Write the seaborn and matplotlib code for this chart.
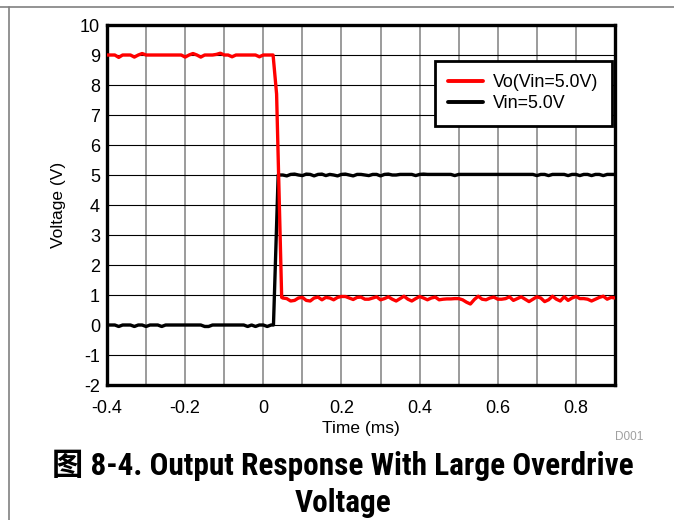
import numpy as np
import pandas as pd
import seaborn as sns
import matplotlib
matplotlib.use("Agg")
import matplotlib.pyplot as plt
from matplotlib.lines import Line2D

# ---------------- data ----------------
t_pre = [-0.40, -0.39, -0.38, -0.37, -0.36, -0.35, -0.34, -0.33, -0.32, -0.31,
         -0.30, -0.29, -0.28, -0.27, -0.26, -0.25, -0.24, -0.23, -0.22, -0.21,
         -0.20, -0.19, -0.18, -0.17, -0.16, -0.15, -0.14, -0.13, -0.12, -0.11,
         -0.10, -0.09, -0.08, -0.07, -0.06, -0.05, -0.04, -0.03, -0.02, -0.01,
         0.00, 0.01, 0.02]
vo_pre = [9.00, 9.00, 9.00, 8.92, 9.00, 9.00, 9.00, 8.93, 9.00, 9.05,
          9.00, 9.00, 9.00, 9.00, 9.00, 9.00, 9.00, 9.00, 9.00, 9.00,
          8.93, 9.00, 9.05, 9.00, 8.93, 9.00, 9.00, 9.00, 9.02, 9.06,
          9.00, 9.00, 8.94, 9.00, 9.00, 9.00, 9.00, 9.00, 9.00, 8.94,
          9.00, 9.00, 9.00]
vin_pre = [0.00, 0.00, 0.00, -0.05, 0.00, 0.00, 0.00, -0.05, 0.00, 0.00,
           -0.05, 0.00, 0.00, 0.00, -0.05, 0.00, 0.00, 0.00, 0.00, 0.00,
           0.00, 0.00, 0.00, 0.00, 0.00, -0.05, -0.05, 0.00, 0.00, 0.00,
           0.00, 0.00, 0.00, 0.00, 0.00, 0.00, -0.05, 0.00, -0.05, 0.00,
           0.00, -0.05, 0.00]

t_vo_edge = [0.025, 0.034, 0.047]
vo_edge = [9.00, 7.70, 0.92]
t_vin_edge = [0.026, 0.038, 0.044]
vin_edge = [0.00, 5.00, 5.00]

t_post = [0.05, 0.06, 0.07, 0.08, 0.09, 0.10, 0.11, 0.12, 0.13, 0.14,
          0.15, 0.16, 0.17, 0.18, 0.19, 0.20, 0.21, 0.22, 0.23, 0.24,
          0.25, 0.26, 0.27, 0.28, 0.29, 0.30, 0.31, 0.32, 0.33, 0.34,
          0.35, 0.36, 0.37, 0.38, 0.39, 0.40, 0.41, 0.42, 0.43, 0.44,
          0.45, 0.46, 0.47, 0.48, 0.49, 0.50, 0.51, 0.52, 0.53, 0.54,
          0.55, 0.56, 0.57, 0.58, 0.59, 0.60, 0.61, 0.62, 0.63, 0.64,
          0.65, 0.66, 0.67, 0.68, 0.69, 0.70, 0.71, 0.72, 0.73, 0.74,
          0.75, 0.76, 0.77, 0.78, 0.79, 0.80, 0.81, 0.82, 0.83, 0.84,
          0.85, 0.86, 0.87, 0.88, 0.89, 0.90]
vo_post = [0.90, 0.88, 0.80, 0.82, 0.90, 0.92, 0.82, 0.80, 0.90, 0.93,
           0.84, 0.92, 0.90, 0.84, 0.92, 0.95, 0.95, 0.90, 0.85, 0.92,
           0.93, 0.86, 0.86, 0.90, 0.94, 0.84, 0.88, 0.94, 0.86, 0.80,
           0.88, 0.96, 0.86, 0.80, 0.88, 0.95, 0.90, 0.84, 0.90, 0.93,
           0.84, 0.86, 0.87, 0.87, 0.88, 0.88, 0.84, 0.76, 0.70, 0.85,
           0.96, 0.86, 0.84, 0.90, 0.93, 0.86, 0.86, 0.88, 0.94, 0.82,
           0.88, 0.94, 0.86, 0.78, 0.86, 0.94, 0.90, 0.78, 0.84, 0.96,
           0.86, 0.80, 0.94, 0.82, 0.90, 0.95, 0.88, 0.88, 0.86, 0.80,
           0.86, 0.92, 0.96, 0.86, 0.92, 0.90]
vin_post = [5.00, 4.97, 5.02, 5.03, 5.00, 4.98, 5.03, 5.02, 4.97, 5.02,
            5.03, 4.98, 5.02, 5.00, 4.97, 5.02, 5.03, 5.00, 4.97, 5.02,
            5.02, 5.00, 4.98, 5.02, 5.02, 4.97, 5.02, 5.03, 5.00, 5.00,
            5.02, 5.02, 5.02, 5.02, 4.98, 5.02, 5.03, 5.02, 5.02, 5.02,
            5.02, 5.02, 5.02, 5.02, 4.98, 5.02, 5.02, 5.02, 5.02, 5.02,
            5.02, 5.02, 5.02, 5.02, 5.02, 5.02, 5.02, 5.02, 5.02, 5.02,
            5.02, 5.02, 5.02, 5.02, 5.02, 4.98, 5.02, 5.02, 4.98, 5.02,
            5.02, 5.02, 5.02, 4.98, 5.02, 5.02, 4.98, 5.02, 5.02, 4.98,
            5.02, 5.02, 4.98, 5.02, 5.02, 5.02]

series_labels = ["Vo(Vin=5.0V)", "Vin=5.0V"]
series_colors = ["#ff0000", "#000000"]
xticks = [-0.4, -0.2, 0, 0.2, 0.4, 0.6, 0.8]
xtick_labels = ["-0.4", "-0.2", "0", "0.2", "0.4", "0.6", "0.8"]
yticks = list(range(-2, 11))
caption = "图 8-4. Output Response With Large Overdrive\nVoltage"

df_vo = pd.DataFrame({"t": t_pre + t_vo_edge + t_post,
                      "v": vo_pre + vo_edge + vo_post})
df_vin = pd.DataFrame({"t": t_pre + t_vin_edge + t_post,
                       "v": vin_pre + vin_edge + vin_post})

# ---------------- figure ----------------
sns.set_theme(style="white")
plt.rcParams["font.family"] = ["Liberation Sans", "DejaVu Sans"]
plt.rcParams["text.color"] = "black"

fig = plt.figure(figsize=(6.74, 5.2), dpi=100)
ax = fig.add_axes([107 / 674, 1 - 385 / 520, 508 / 674, 360 / 520])

sns.lineplot(data=df_vo, x="t", y="v", ax=ax, color=series_colors[0],
             linewidth=2.4, estimator=None, sort=False, zorder=4)
sns.lineplot(data=df_vin, x="t", y="v", ax=ax, color=series_colors[1],
             linewidth=2.4, estimator=None, sort=False, zorder=3)

ax.set_xlim(-0.4, 0.9)
ax.set_ylim(-2, 10)
ax.set_xticks(xticks)
ax.set_xticklabels(xtick_labels)
ax.set_xticks(np.round(np.arange(-0.4, 0.91, 0.1), 2), minor=True)
ax.set_yticks(yticks)
ax.set_yticklabels([str(v) for v in yticks])

ax.grid(True, axis="x", which="both", color="#808080", linewidth=1.1, zorder=0)
ax.grid(True, axis="y", which="major", color="#000000", linewidth=0.8, zorder=0)
ax.set_axisbelow(True)

ax.tick_params(axis="both", which="both", length=0, labelsize=13, colors="black")
ax.tick_params(axis="y", pad=5)
ax.tick_params(axis="x", pad=10.5)

for s in ax.spines.values():
    s.set_visible(True)
    s.set_color("black")
    s.set_linewidth(2.4)

ax.set_xlabel("Time (ms)", fontsize=12.5, color="black", labelpad=3.5)
ax.set_ylabel("Voltage (V)", fontsize=12.5, color="black", labelpad=10)

handles = [Line2D([], [], color=c, linewidth=2.8) for c in series_colors]
leg = ax.legend(handles, series_labels, loc="upper right",
                bbox_to_anchor=(0.994, 0.90), fontsize=12.9, frameon=True,
                fancybox=False, framealpha=1, edgecolor="black",
                handlelength=1.95, handletextpad=0.55, borderpad=0.75,
                labelspacing=0.22, borderaxespad=0)
leg.get_frame().set_linewidth(2.0)
for txt in leg.get_texts():
    txt.set_color("black")

fig.text(643 / 674, 1 - 437 / 520, "D001", ha="right", va="center",
         fontsize=8.5, color="#a0a0a0")

fig.text(343 / 674, 1 - 484 / 520, caption, ha="center", va="center",
         fontsize=22.5, fontweight="bold", linespacing=1.3, color="black",
         family=["Roboto Condensed", "Liberation Sans", "Noto Sans CJK SC"])

# page frame lines
fig.add_artist(Line2D([0, 1], [1 - 7 / 520, 1 - 7 / 520], transform=fig.transFigure,
                      color="#808080", linewidth=1.2))
fig.add_artist(Line2D([9 / 674, 9 / 674], [0, 1 - 7 / 520], transform=fig.transFigure,
                      color="#808080", linewidth=1.2))

fig.savefig("out.png", dpi=100)
